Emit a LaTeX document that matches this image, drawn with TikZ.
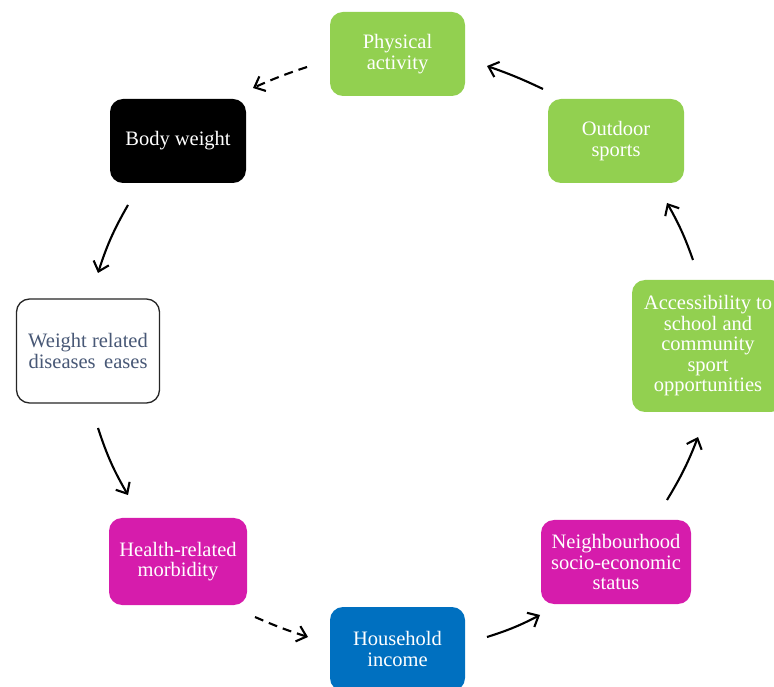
\documentclass[tikz,border=0pt]{standalone}
\usepackage{fontspec}
\setmainfont{Liberation Serif}
\usetikzlibrary{arrows.meta}
\definecolor{leaf}{RGB}{146,208,80}
\definecolor{plum}{RGB}{214,28,172}
\definecolor{ocean}{RGB}{0,112,192}
\definecolor{slate}{RGB}{72,88,118}
\begin{document}
\begin{tikzpicture}[x=1pt,y=1pt,
  box/.style={rounded corners=13pt, align=center, inner sep=0pt,
    font=\fontsize{20.5}{20.5}\selectfont, text=white},
  greenbox/.style={box, fill=leaf},
  pinkbox/.style={box, fill=plum},
  flow/.style={line width=2.1pt, -{Straight Barb[length=9pt,width=16pt,line width=2.1pt]}},
  weakflow/.style={flow, dash pattern=on 9pt off 6pt}]
\useasboundingbox (0,0) rectangle (774,686);
% factor boxes
\node[greenbox, minimum width=135pt, minimum height=84pt] (pa) at (397.5,632) {Physical\\activity};
\node[box, fill=black, minimum width=136pt, minimum height=84pt] (bw) at (178,545) {Body weight};
\node[greenbox, minimum width=136pt, minimum height=84pt] (os) at (616,545) {Outdoor\\sports};
\node[box, draw=black!85, line width=1.3pt, fill=white, text=slate, minimum width=143pt, minimum height=104pt] (wrd) at (88,335) {Weight related\\diseases\, eases};
\node[greenbox, minimum width=152pt, minimum height=132pt] (acc) at (708,340) {Accessibility to\\school and\\community\\sport\\opportunities};
\node[pinkbox, minimum width=138pt, minimum height=87pt] (hrm) at (178,124.5) {Health-related\\morbidity};
\node[pinkbox, minimum width=150pt, minimum height=84pt] (nss) at (616,124) {Neighbourhood\\socio-economic\\status};
\node[box, fill=ocean, minimum width=135pt, minimum height=84pt] (hi) at (397.5,37) {Household\\income};
% arrow end points
\coordinate (a1s) at (307,619); \coordinate (a1e) at (253,598);
\coordinate (a2s) at (128,481); \coordinate (a2e) at (98,413);
\coordinate (a3s) at (98,258);  \coordinate (a3e) at (128,191);
\coordinate (a4s) at (255,69);  \coordinate (a4e) at (308,49);
\coordinate (a5s) at (487,49);  \coordinate (a5e) at (540,71);
\coordinate (a6s) at (667,186); \coordinate (a6e) at (698,249);
\coordinate (a7s) at (693,426); \coordinate (a7e) at (667,483);
\coordinate (a8s) at (543,597); \coordinate (a8e) at (487,620);
% cycle of influences
\draw[weakflow] (a1s) to[bend right=3] (a1e);
\draw[flow] (a2s) to[bend right=6] (a2e);
\draw[flow] (a3s) to[bend right=6] (a3e);
\draw[weakflow] (a4s) to[bend right=3] (a4e);
\draw[flow] (a5s) to[bend right=5] (a5e);
\draw[flow] (a6s) to[bend right=5] (a6e);
\draw[flow] (a7s) to[bend right=5] (a7e);
\draw[flow] (a8s) to[bend right=3] (a8e);
\end{tikzpicture}
\end{document}
